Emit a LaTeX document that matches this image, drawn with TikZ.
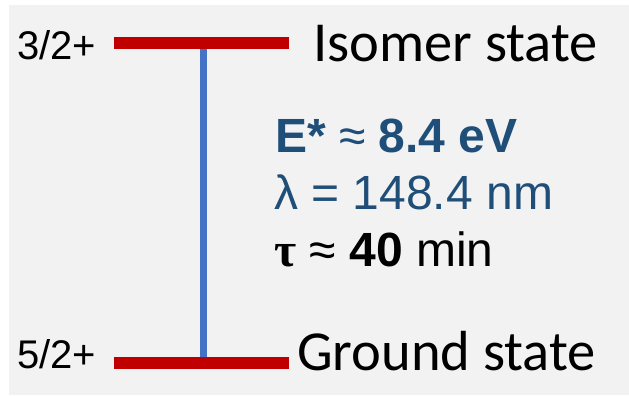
\documentclass[tikz,border=0pt]{standalone}
\usepackage{fontspec}
\setmainfont{Liberation Sans}
\newfontfamily\statefont{Carlito}
\newfontfamily\taufont{Liberation Serif}
\definecolor{levelred}{RGB}{192,0,0}
\definecolor{lineblue}{RGB}{68,114,196}
\definecolor{textblue}{RGB}{31,78,121}

\begin{document}
\begin{tikzpicture}[x=1pt,y=1pt,
    level/.style={draw=levelred,line width=12pt},
    trans/.style={draw=lineblue,line width=7pt},
    spin/.style={anchor=base west,inner sep=0pt,font=\fontsize{40}{48}\selectfont},
    state/.style={anchor=base west,inner sep=0pt,font=\statefont\fontsize{56.5}{66}\selectfont},
    info/.style={anchor=base west,inner sep=0pt,font=\fontsize{48}{56}\selectfont}]
            \useasboundingbox (0,0) rectangle (629,396);
            \fill[black!5] (9,1) rectangle (629,391);

            \coordinate (isoL) at (114,353);
            \coordinate (isoM) at (203,353);
            \coordinate (isoR) at (289,353);
            \coordinate (gndL) at (114,33);
            \coordinate (gndM) at (203,33);
            \coordinate (gndR) at (289,33);

            \draw[trans] (isoM) -- (gndM);
            \draw[level] (isoL) -- (isoR);
            \draw[level] (gndL) -- (gndR);

            \node[spin] (isospin) at (17,336) {3/2+};
            \node[spin] (gndspin) at (17,27) {5/2+};
            \node[state] (isoname) at (313,334) {Isomer state};
            \node[state] (gndname) at (297,25) {Ground state};

            \node[info,text=textblue] (energy) at (275,243) {\bfseries E* {\mdseries ≈} 8.4 eV};
            \node[info,text=textblue] (wave) at (274,186) {λ = 148.4 nm};
            \node[info] (life) at (274,129) {{\taufont\bfseries τ} ≈ \textbf{40} min};
        \end{tikzpicture}
\end{document}
